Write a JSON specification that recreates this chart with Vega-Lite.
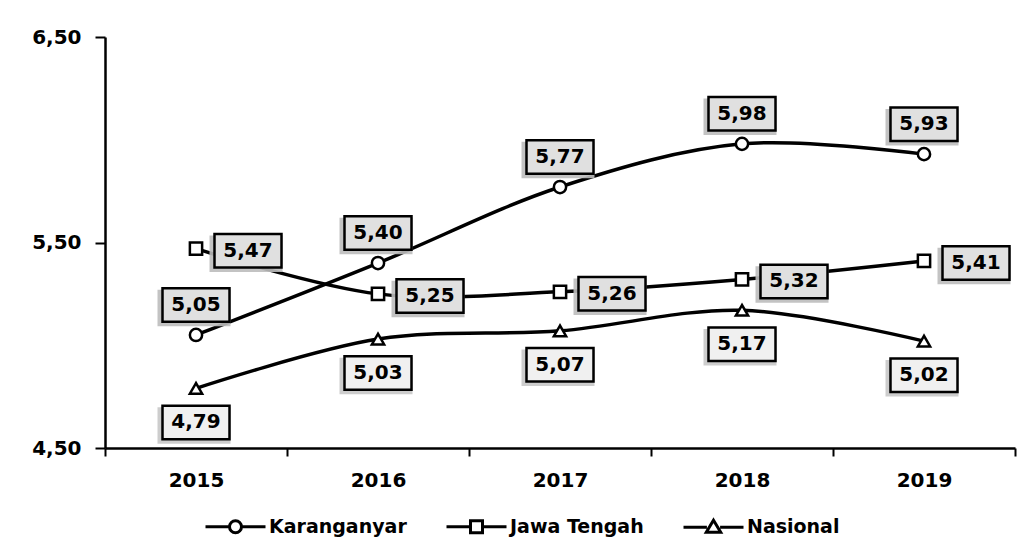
{
  "$schema": "https://vega.github.io/schema/vega-lite/v6.json",
  "autosize": {"type": "none"},
  "padding": {"left": 105, "top": 37, "right": 17, "bottom": 104},
  "width": 910,
  "height": 411,
  "background": "white",
  "config": {
    "locale": {"number": {"decimal": ",", "thousands": ".", "grouping": [3], "currency": ["", ""]}},
    "view": {"stroke": null},
    "axis": {
      "domainColor": "black", "domainWidth": 2.5, "tickColor": "black", "tickWidth": 2,
      "labelFont": "DejaVu Sans", "labelFontWeight": "bold", "labelFontSize": 20, "labelColor": "black",
      "grid": false, "title": null
    }
  },
  "data": {"values": [
    {"year": "2015", "s": "Karanganyar", "v": 5.05},
    {"year": "2016", "s": "Karanganyar", "v": 5.40},
    {"year": "2017", "s": "Karanganyar", "v": 5.77},
    {"year": "2018", "s": "Karanganyar", "v": 5.98},
    {"year": "2019", "s": "Karanganyar", "v": 5.93},
    {"year": "2015", "s": "Jawa Tengah", "v": 5.47},
    {"year": "2016", "s": "Jawa Tengah", "v": 5.25},
    {"year": "2017", "s": "Jawa Tengah", "v": 5.26},
    {"year": "2018", "s": "Jawa Tengah", "v": 5.32},
    {"year": "2019", "s": "Jawa Tengah", "v": 5.41},
    {"year": "2015", "s": "Nasional", "v": 4.79},
    {"year": "2016", "s": "Nasional", "v": 5.03},
    {"year": "2017", "s": "Nasional", "v": 5.07},
    {"year": "2018", "s": "Nasional", "v": 5.17},
    {"year": "2019", "s": "Nasional", "v": 5.02}
  ]},
  "encoding": {
    "x": {"field": "year", "type": "ordinal", "scale": {"type": "band", "paddingInner": 0, "paddingOuter": 0},
      "axis": {"labelAngle": 0, "tickBand": "extent", "tickSize": 8, "labelPadding": 14}},
    "y": {"field": "v", "type": "quantitative", "scale": {"domain": [4.5, 6.5], "nice": false, "zero": false},
      "axis": {"values": [4.5, 5.5, 6.5], "format": ".2f", "tickSize": 10, "labelPadding": 14}}
  },
  "resolve": {"scale": {"shape": "independent"}},
  "layer": [
    {
      "mark": {"type": "line", "color": "black", "strokeWidth": 3.5, "interpolate": "cardinal", "tension": 0},
      "encoding": {"detail": {"field": "s"}}
    },
    {
      "mark": {"type": "point", "filled": true, "fill": "white", "stroke": "black", "strokeWidth": 2.5, "opacity": 1},
      "encoding": {
        "shape": {"field": "s", "type": "nominal", "scale": {"domain": ["Karanganyar", "Jawa Tengah", "Nasional"], "range": ["circle", "square", "triangle-up"]}, "legend": null},
        "size": {"value": 150}
      }
    },
    {
      "transform": [{"filter": "false"}],
      "mark": {"type": "point", "filled": false, "color": "black", "strokeWidth": 3, "opacity": 1},
      "encoding": {
        "shape": {"field": "s", "type": "nominal",
          "scale": {"domain": ["Karanganyar", "Jawa Tengah", "Nasional"],
            "range": [
              "M-1,0H-0.2M0.2,0H1M-0.2,0A0.2,0.2,0,1,1,0.2,0A0.2,0.2,0,1,1,-0.2,0Z",
              "M-1,0H-0.2M0.2,0H1M-0.2,-0.2H0.2V0.2H-0.2Z",
              "M-1,0H-0.22M0.22,0H1M0,-0.24L0.24,0.16H-0.24Z"
            ]},
          "legend": {
            "orient": "none", "legendX": 99, "legendY": 458, "direction": "horizontal", "title": null,
            "labelFont": "DejaVu Sans", "labelFontWeight": "bold", "labelFontSize": 19, "labelColor": "black",
            "labelOffset": 2, "columnPadding": 33, "symbolSize": 3600, "symbolStrokeWidth": 3,
            "symbolStrokeColor": "black", "symbolOpacity": 1
          }
        }
      }
    },
    {
      "transform": [{"filter": "datum.s == 'Karanganyar'"}],
      "layer": [
        {"mark": {"type": "point", "shape": "M-1,-0.5H1V0.5H-1Z", "size": 5329, "filled": true, "fill": "#bdbdbd", "strokeWidth": 0, "opacity": 0.9, "xOffset": -2, "yOffset": -27}},
        {"mark": {"type": "point", "shape": "M-1,-0.5H1V0.5H-1Z", "size": 4489, "filled": true, "fill": "#e0e0e0", "stroke": "black", "strokeWidth": 2.5, "opacity": 1, "yOffset": -30}},
        {"mark": {"type": "text", "font": "DejaVu Sans", "fontWeight": "bold", "fontSize": 20, "color": "black", "dy": -30, "baseline": "middle"},
          "encoding": {"text": {"field": "v", "type": "quantitative", "format": ".2f"}}}
      ]
    },
    {
      "transform": [{"filter": "datum.s == 'Jawa Tengah'"}],
      "layer": [
        {"mark": {"type": "point", "shape": "M-1,-0.5H1V0.5H-1Z", "size": 5329, "filled": true, "fill": "#bdbdbd", "strokeWidth": 0, "opacity": 0.9, "xOffset": 50, "yOffset": 5}},
        {"mark": {"type": "point", "shape": "M-1,-0.5H1V0.5H-1Z", "size": 4489, "filled": true, "fill": "#e0e0e0", "stroke": "black", "strokeWidth": 2.5, "opacity": 1, "xOffset": 52, "yOffset": 2}},
        {"mark": {"type": "text", "font": "DejaVu Sans", "fontWeight": "bold", "fontSize": 20, "color": "black", "dx": 52, "dy": 2, "baseline": "middle"},
          "encoding": {"text": {"field": "v", "type": "quantitative", "format": ".2f"}}}
      ]
    },
    {
      "transform": [{"filter": "datum.s == 'Nasional'"}],
      "layer": [
        {"mark": {"type": "point", "shape": "M-1,-0.5H1V0.5H-1Z", "size": 5329, "filled": true, "fill": "#c8c8c8", "strokeWidth": 0, "opacity": 0.9, "xOffset": -2, "yOffset": 37}},
        {"mark": {"type": "point", "shape": "M-1,-0.5H1V0.5H-1Z", "size": 4489, "filled": true, "fill": "#f0f0f0", "stroke": "black", "strokeWidth": 2.5, "opacity": 1, "yOffset": 34}},
        {"mark": {"type": "text", "font": "DejaVu Sans", "fontWeight": "bold", "fontSize": 20, "color": "black", "dy": 34, "baseline": "middle"},
          "encoding": {"text": {"field": "v", "type": "quantitative", "format": ".2f"}}}
      ]
    }
  ]
}
